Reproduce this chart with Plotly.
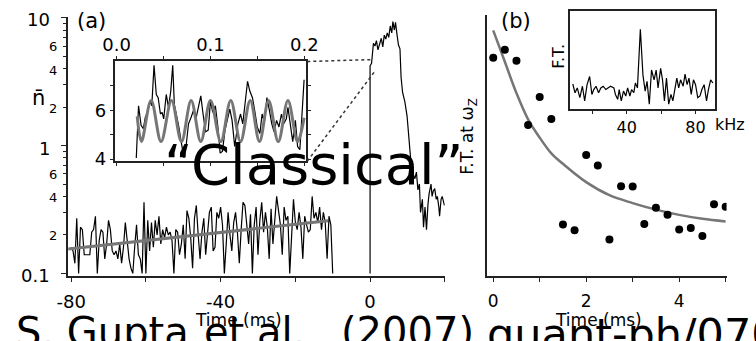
import plotly.graph_objects as go

W, H = 756, 341
FONT = "DejaVu Sans"


def fx(p):
    return p / W


def fy(p):
    return 1 - p / H


# ---------------- Panel (a): mean photon number vs time ----------------
pre_t = [-80 + 0.5 * i for i in range(141)]
pre_n = [
    0.16, 0.15, 0.12, 0.27, 0.10, 0.23, 0.22, 0.14, 0.14, 0.14,
    0.14, 0.21, 0.22, 0.28, 0.10, 0.18, 0.22, 0.21, 0.13, 0.17,
    0.26, 0.22, 0.15, 0.14, 0.15, 0.13, 0.17, 0.12, 0.16, 0.25,
    0.17, 0.13, 0.11, 0.10, 0.16, 0.24, 0.14, 0.13, 0.10, 0.36,
    0.10, 0.26, 0.15, 0.25, 0.16, 0.26, 0.20, 0.28, 0.17, 0.22,
    0.19, 0.23, 0.20, 0.21, 0.18, 0.10, 0.22, 0.21, 0.14, 0.17,
    0.24, 0.13, 0.31, 0.27, 0.19, 0.11, 0.27, 0.34, 0.20, 0.13,
    0.21, 0.27, 0.14, 0.20, 0.30, 0.33, 0.15, 0.16, 0.30, 0.27,
    0.33, 0.24, 0.10, 0.17, 0.30, 0.20, 0.15, 0.25, 0.30, 0.21,
    0.12, 0.22, 0.36, 0.34, 0.25, 0.17, 0.29, 0.10, 0.24, 0.33,
    0.14, 0.26, 0.36, 0.21, 0.30, 0.23, 0.13, 0.32, 0.17, 0.27,
    0.40, 0.31, 0.24, 0.14, 0.33, 0.26, 0.28, 0.10, 0.20, 0.38,
    0.25, 0.22, 0.30, 0.23, 0.13, 0.28, 0.24, 0.21, 0.22, 0.40,
    0.27, 0.30, 0.25, 0.33, 0.22, 0.30, 0.25, 0.13, 0.28, 0.24,
    0.10,
]

post_t = [0.0, 0.0, 0.4, 0.9, 1.3, 1.7, 2.1, 2.5, 3.0, 3.4, 3.8, 4.2, 4.6,
          5.0, 5.4, 5.8, 6.1, 6.5, 6.8, 7.2, 7.6, 8.0, 8.3, 8.7, 9.3, 9.9,
          10.4, 11.0, 11.5, 12.0, 12.4, 12.8, 13.2, 13.5, 14.0, 14.3, 14.7,
          15.1, 15.5, 15.8, 16.3, 16.6, 16.9, 17.3, 17.7, 18.0, 18.4, 18.6,
          19.0, 19.3, 19.9]
post_n = [0.1, 4.2, 4.4, 6.3, 6.0, 6.6, 5.6, 6.3, 6.9, 5.9, 7.3, 6.8, 7.6,
          7.0, 8.6, 7.6, 9.3, 8.0, 9.2, 7.4, 6.1, 5.7, 3.4, 2.6, 2.2, 1.7,
          1.05, 0.70, 0.60, 0.55, 0.62, 0.45, 0.50, 0.30, 0.38, 0.23, 0.33,
          0.22, 0.35, 0.42, 0.50, 0.40, 0.44, 0.46, 0.38, 0.40, 0.33, 0.28,
          0.38, 0.40, 0.34]

heat_fit_t = [-80.8, -11.2]
heat_fit_n = [0.155, 0.258]

# zoom on the first 0.2 ms after the drive turns on
zoom_t = [
    0.0210, 0.0234, 0.0261, 0.0285, 0.0306, 0.0330, 0.0357, 0.0375, 0.0399, 0.0423,
    0.0443, 0.0467, 0.0485, 0.0502, 0.0529, 0.0553, 0.0577, 0.0598, 0.0615, 0.0639,
    0.0663, 0.0691, 0.0718, 0.0742, 0.0766, 0.0794, 0.0818, 0.0845, 0.0873, 0.0897,
    0.0921, 0.0948, 0.0976, 0.1000, 0.1024, 0.1052, 0.1079, 0.1103, 0.1127, 0.1155,
    0.1182, 0.1206, 0.1230, 0.1258, 0.1292, 0.1320, 0.1344, 0.1371, 0.1395, 0.1419,
    0.1447, 0.1471, 0.1498, 0.1526, 0.1550, 0.1574, 0.1601, 0.1625, 0.1653, 0.1677,
    0.1704, 0.1729, 0.1756, 0.1780, 0.1808, 0.1825, 0.1849, 0.1876, 0.1904, 0.1928,
    0.1952, 0.1979, 0.1997,
]
zoom_n = [
    4.05, 6.19, 5.39, 5.25, 5.72, 5.92, 6.39, 6.19, 7.85, 6.65,
    6.52, 5.85, 5.92, 5.65, 6.65, 6.12, 6.79, 7.85, 6.25, 5.85,
    5.32, 4.65, 4.05, 4.59, 5.45, 5.72, 5.99, 5.65, 6.19, 6.59,
    5.85, 5.12, 5.19, 6.39, 5.92, 6.19, 5.32, 4.25, 4.32, 5.19,
    5.65, 6.05, 5.59, 4.52, 5.45, 5.85, 5.45, 6.25, 7.19, 6.79,
    6.52, 5.99, 5.32, 5.05, 5.85, 5.52, 6.52, 6.05, 5.45, 5.12,
    5.59, 5.32, 5.85, 5.45, 5.65, 6.12, 5.45, 4.72, 5.59, 4.52,
    4.39, 5.85, 7.25,
]
osc_t = [0.0220, 0.0265, 0.0368, 0.0474, 0.0585, 0.0691, 0.0794, 0.0897,
         0.1000, 0.1110, 0.1216, 0.1320, 0.1423, 0.1522, 0.1619, 0.1722,
         0.1825, 0.1928, 0.1997]
osc_n = [5.75, 4.72, 6.40, 4.72, 6.40, 4.72, 6.40, 4.72, 6.40, 4.72, 6.40,
         4.72, 6.40, 4.72, 6.40, 4.72, 6.40, 4.72, 5.70]

# ---------------- Panel (b): F.T. amplitude at the trap frequency ----------------
ft_t = [0, 0.25, 0.5, 0.75, 1.0, 1.25, 1.5, 1.75, 2.0, 2.25, 2.5, 2.75, 3.0,
        3.25, 3.5, 3.75, 4.0, 4.25, 4.5, 4.75, 5.0]
ft_amp = [0.835, 0.866, 0.824, 0.578, 0.685, 0.601, 0.198, 0.176, 0.464,
          0.424, 0.141, 0.344, 0.343, 0.200, 0.262, 0.235, 0.179, 0.185,
          0.154, 0.276, 0.266]
decay_t = [0, 0.25, 0.5, 0.75, 1.0, 1.25, 1.5, 2.0, 2.5, 3.0, 3.5, 4.0, 4.5, 5.0]
decay_amp = [0.94, 0.82, 0.70, 0.60, 0.53, 0.47, 0.43, 0.36, 0.31, 0.28,
             0.255, 0.235, 0.22, 0.21]

spec_f = [8.6, 9.9, 11.2, 12.7, 14.2, 15.5, 16.9, 18.4, 19.7, 20.8, 22.1, 23.6,
          24.9, 26.3, 27.8, 29.3, 30.6, 32.5, 33.4, 34.7, 35.6, 36.8, 38.1,
          39.4, 40.5, 41.8, 42.8, 44.1, 45.0, 46.2, 47.9, 49.4, 50.7, 51.8,
          53.1, 54.4, 55.9, 57.1, 58.2, 59.7, 60.8, 61.9, 63.1, 64.4, 65.7,
          66.8, 68.0, 69.1, 70.2, 71.3, 72.8, 73.9, 75.1, 76.2, 77.5, 78.8,
          80.0, 81.3, 82.6, 83.7, 85.0, 86.4, 87.5, 88.8, 90.1]
spec_amp = [0.257, 0.167, 0.217, 0.117, 0.234, 0.084, 0.250, 0.334, 0.150,
            0.200, 0.234, 0.167, 0.217, 0.234, 0.200, 0.217, 0.234, 0.217,
            0.150, 0.100, 0.200, 0.084, 0.184, 0.134, 0.217, 0.134, 0.200,
            0.167, 0.267, 0.217, 0.817, 0.350, 0.184, 0.284, 0.050, 0.400,
            0.300, 0.400, 0.217, 0.417, 0.300, 0.084, 0.317, 0.050, 0.150,
            0.084, 0.200, 0.317, 0.217, 0.300, 0.234, 0.357, 0.250, 0.317,
            0.150, 0.300, 0.250, 0.117, 0.134, 0.200, 0.250, 0.084, 0.200,
            0.300, 0.267]

BLACK = "#000000"
GREY = "#767676"
AX = "#222222"

fig = go.Figure()

# panel (a) main
fig.add_trace(go.Scatter(x=pre_t, y=pre_n, mode="lines",
                         line=dict(color=BLACK, width=1.2), xaxis="x", yaxis="y"))
fig.add_trace(go.Scatter(x=heat_fit_t, y=heat_fit_n, mode="lines",
                         line=dict(color=GREY, width=3), xaxis="x", yaxis="y"))
fig.add_trace(go.Scatter(x=post_t, y=post_n, mode="lines",
                         line=dict(color=BLACK, width=1.2), xaxis="x", yaxis="y"))
# panel (a) inset
fig.add_trace(go.Scatter(x=zoom_t, y=zoom_n, mode="lines",
                         line=dict(color=BLACK, width=1.2), xaxis="x2", yaxis="y2"))
fig.add_trace(go.Scatter(x=osc_t, y=osc_n, mode="lines",
                         line=dict(color=GREY, width=3, shape="spline", smoothing=1.0),
                         xaxis="x2", yaxis="y2"))
# panel (b) main
fig.add_trace(go.Scatter(x=decay_t, y=decay_amp, mode="lines",
                         line=dict(color=GREY, width=2.5, shape="spline"),
                         xaxis="x3", yaxis="y3"))
fig.add_trace(go.Scatter(x=ft_t, y=ft_amp, mode="markers",
                         marker=dict(color=BLACK, size=8), xaxis="x3", yaxis="y3"))
# panel (b) inset
fig.add_trace(go.Scatter(x=spec_f, y=spec_amp, mode="lines",
                         line=dict(color=BLACK, width=1.2), xaxis="x4", yaxis="y4"))

tickfont = dict(family=FONT, size=18, color=BLACK)

major_log = [0.1, 1, 10]
minor_log = [0.2, 0.3, 0.4, 0.5, 0.6, 0.7, 0.8, 0.9,
             2, 3, 4, 5, 6, 7, 8, 9]

fig.update_layout(
    width=W, height=H,
    margin=dict(l=0, r=0, t=0, b=0),
    paper_bgcolor="white", plot_bgcolor="rgba(0,0,0,0)",
    showlegend=False,
    font=dict(family=FONT, color=BLACK),
    xaxis=dict(domain=[fx(58), fx(447)], range=[-80.8, 20.0], anchor="y",
               showline=True, linecolor=AX, linewidth=1.5, showgrid=False, zeroline=False,
               ticks="outside", ticklen=4, tickwidth=1.2, tickcolor=AX,
               tickvals=[-80, -40, 0], ticktext=["-80", "-40", "0"], tickfont=tickfont,
               ticklabelstandoff=4,
               minor=dict(tickvals=[-60, -20, 20], ticks="outside", ticklen=4,
                          tickwidth=1.2, tickcolor=AX, showgrid=False)),
    yaxis=dict(domain=[fy(283), fy(17)], type="log", range=[-1.023, 1.008], anchor="x",
               showline=True, linecolor=AX, linewidth=1.5, showgrid=False, zeroline=False,
               ticks="outside", ticklen=5, tickwidth=1.2, tickcolor=AX,
               tickvals=major_log, showticklabels=False,
               minor=dict(tickvals=minor_log, ticks="outside", ticklen=3,
                          tickwidth=1, tickcolor=AX, showgrid=False)),
    xaxis2=dict(domain=[fx(106), fx(304)], range=[-0.00206, 0.2021], anchor="y2",
                side="top", mirror="ticks",
                showline=True, linecolor=AX, linewidth=1.5, showgrid=False, zeroline=False,
                ticks="outside", ticklen=3, tickwidth=1.2, tickcolor=AX,
                tickvals=[0.0, 0.1, 0.2], ticktext=["0.0", "0.1", "0.2"], tickfont=tickfont,
                ticklabelstandoff=-2,
                minor=dict(tickvals=[0.05, 0.15], ticks="outside", ticklen=3,
                           tickwidth=1.2, tickcolor=AX, showgrid=False)),
    yaxis2=dict(domain=[fy(165), fy(62)], range=[3.92, 8.04], anchor="x2",
                mirror="ticks",
                showline=True, linecolor=AX, linewidth=1.5, showgrid=False, zeroline=False,
                ticks="outside", ticklen=3, tickwidth=1.2, tickcolor=AX,
                tickvals=[4, 6], ticktext=["4", "6"], tickfont=tickfont,
                minor=dict(tickvals=[5, 7], ticks="outside", ticklen=3,
                           tickwidth=1.2, tickcolor=AX, showgrid=False)),
    xaxis3=dict(domain=[fx(491), fx(738)], range=[-0.125, 5.02], anchor="y3",
                showline=True, linecolor=AX, linewidth=1.5, showgrid=False, zeroline=False,
                ticks="outside", ticklen=4, tickwidth=1.2, tickcolor=AX,
                tickvals=[0, 2, 4], ticktext=["0", "2", "4"],
                tickfont=dict(family=FONT, size=17, color=BLACK),
                ticklabelstandoff=4,
                minor=dict(tickvals=[1, 3, 5], ticks="outside", ticklen=4,
                           tickwidth=1.2, tickcolor=AX, showgrid=False)),
    yaxis3=dict(domain=[fy(283), fy(15)], range=[0, 1], anchor="x3",
                showline=True, linecolor=AX, linewidth=1.5, showgrid=False, zeroline=False,
                showticklabels=False, ticks=""),
    xaxis4=dict(domain=[fx(576.7), fx(726)], range=[7.2, 91.3], anchor="y4",
                mirror=True,
                showline=True, linecolor=AX, linewidth=1.5, showgrid=False, zeroline=False,
                ticks="outside", ticklen=3, tickwidth=1.2, tickcolor=AX,
                tickvals=[40, 80], ticktext=["40", "80"],
                tickfont=dict(family=FONT, size=16, color=BLACK),
                minor=dict(tickvals=[20, 60], ticks="outside", ticklen=3,
                           tickwidth=1.2, tickcolor=AX, showgrid=False)),
    yaxis4=dict(domain=[fy(111.7), fy(11.7)], range=[0, 1], anchor="x4",
                mirror=True,
                showline=True, linecolor=AX, linewidth=1.5, showgrid=False, zeroline=False,
                showticklabels=False, ticks=""),
)

# dotted guides joining the inset to the region it magnifies
for (x0, y0, x1, y1) in [(305, 63, 372, 61), (305, 165, 374, 74)]:
    fig.add_shape(type="line", xref="paper", yref="paper",
                  x0=fx(x0), y0=fy(y0), x1=fx(x1), y1=fy(y1),
                  line=dict(color="#333333", width=1.5, dash="dot"))

ann = []


def label(text, x, y, size, xanchor="center", yanchor="middle", angle=0):
    ann.append(dict(text=text, xref="paper", yref="paper", x=fx(x), y=fy(y),
                    xanchor=xanchor, yanchor=yanchor, showarrow=False, textangle=angle,
                    font=dict(family=FONT, size=size, color=BLACK)))


# log-axis labels of panel (a)
for txt, ypix in [("10", 20), ("1", 152), ("0.1", 282)]:
    label(txt, 41, ypix, 18, xanchor="right")
for txt, ypix in [("6", 48), ("4", 72), ("2", 111), ("6", 179), ("4", 202), ("2", 241)]:
    label(txt, 49, ypix, 13, xanchor="right")

label("(a)", 82, 22, 21)
label("(b)", 521, 22, 21)
label("n\u0304", 27, 100, 21)
label("F.T. at ω<sub>Z</sub>", 472, 140, 17, angle=-90)
label("F.T.", 565, 58, 16, angle=-90)
label("kHz", 724, 128, 16, xanchor="left")
label("Time (ms)", 234, 328, 17)
label("Time (ms)", 606, 328, 17)

# overlaid headline and reference
label("\u201cClassical\u201d", 312, 168, 56)
label("S. Gupta", 2, 340, 40, xanchor="left")
label("et al.", 196, 340, 40, xanchor="left")
label("(2007)", 338, 340, 40, xanchor="left")
label("quant-ph/0706.1052", 488, 342, 43, xanchor="left")

fig.update_layout(annotations=ann)

fig.write_html("out.html")
